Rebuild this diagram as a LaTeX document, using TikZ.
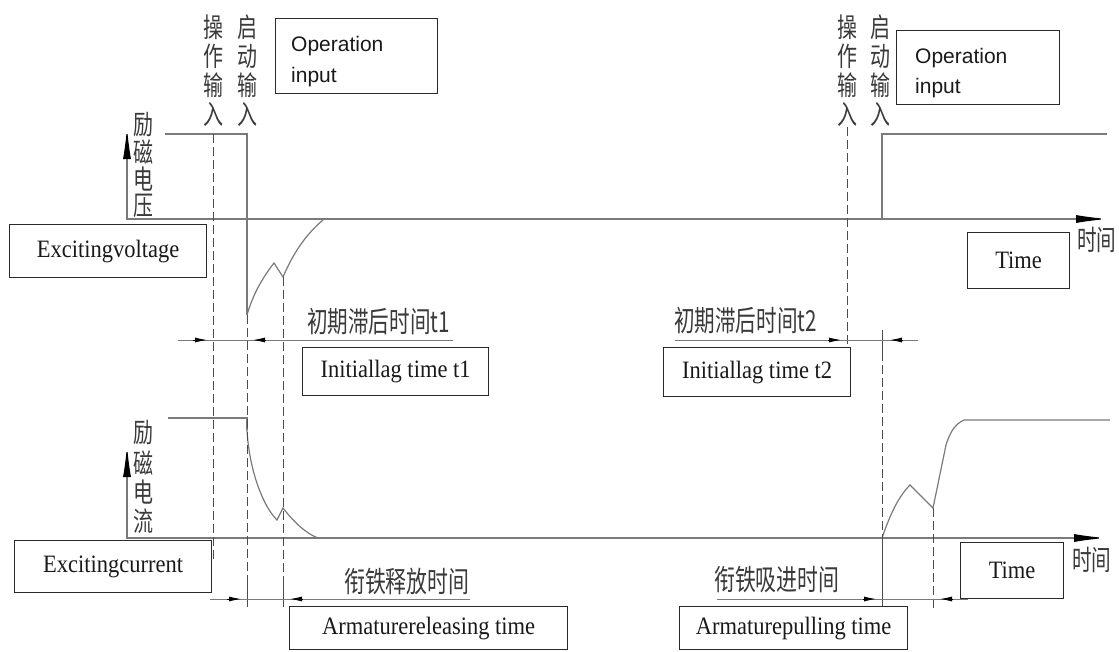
\documentclass[tikz,border=0pt]{standalone}
\usepackage{fontspec}
\newfontfamily\cjk{Noto Sans CJK SC}
\newfontfamily\sansf{Liberation Sans}
\newfontfamily\serf{Liberation Serif}
\usetikzlibrary{arrows.meta}
\definecolor{lngray}{HTML}{7A7A7A}
\definecolor{txtgray}{HTML}{3A3A3A}
\definecolor{boxline}{HTML}{2A2A2A}
\begin{document}
\begin{tikzpicture}[x=1pt,y=-1pt,
  ln/.style={draw=lngray, line width=1.2pt},
  dsh/.style={draw=black!70, line width=0.9pt, dash pattern=on 9pt off 4pt},
  tick/.style={draw=black!70, line width=0.9pt},
  axisarr/.style={ln, {Latex[length=32pt,width=8pt,color=black]}-{Latex[length=32pt,width=8pt,color=black]}},
  dimarr/.style={draw=black, line width=0.8pt, -{Latex[length=12pt,width=5pt,color=black]}},
  ebox/.style={draw=boxline, line width=1.2pt, inner sep=0pt, anchor=north west, text=black!90, font=\serf\fontsize{25}{28}\selectfont},
  opbox/.style={draw=boxline, line width=1.2pt, inner sep=0pt, anchor=north west},
  optext/.style={anchor=base west, inner sep=0pt, text=black!90, font=\sansf\fontsize{21}{24}\selectfont},
  vch/.style={inner sep=0pt, text=txtgray, font=\cjk\fontsize{27}{27}\selectfont},
  hch/.style={inner sep=0pt, anchor=west, text=txtgray, font=\cjk\fontsize{29}{29}\selectfont},
]
\useasboundingbox (0,0) rectangle (1119,651);

% ---------- vertical Chinese labels ----------
\foreach \c [count=\i from 0] in {操,作,输,入}
  \node[vch] (opl\i) at (213,27+29*\i) {\scalebox{0.74}[1]{\c}};
\foreach \c [count=\i from 0] in {启,动,输,入}
  \node[vch] (stl\i) at (247,27+29*\i) {\scalebox{0.74}[1]{\c}};
\foreach \c [count=\i from 0] in {操,作,输,入}
  \node[vch] (opr\i) at (847,27+29*\i) {\scalebox{0.74}[1]{\c}};
\foreach \c [count=\i from 0] in {启,动,输,入}
  \node[vch] (str\i) at (880,27+29*\i) {\scalebox{0.74}[1]{\c}};
\foreach \c [count=\i from 0] in {励,磁,电,压}
  \node[vch] (vlab\i) at (143,125+27*\i) {\scalebox{0.74}[1]{\c}};
\foreach \c [count=\i from 0] in {励,磁,电,流}
  \node[vch] (clab\i) at (143,433+29.5*\i) {\scalebox{0.74}[1]{\c}};

% ---------- Operation input boxes ----------
\node[opbox, minimum width=162pt, minimum height=75pt] (op1) at (275,18) {};
\node[optext] (op1a) at (291,51) {Operation};
\node[optext] (op1b) at (291,82) {input};
\node[opbox, minimum width=163pt, minimum height=74pt] (op2) at (896,30) {};
\node[optext] (op2a) at (915,63) {Operation};
\node[optext] (op2b) at (915,93) {input};

% ---------- axes ----------
\draw[axisarr] (127,127) -- (127,219) -- (1108,219);
\draw[axisarr] (127,445) -- (127,538) -- (1106,538);

% ---------- exciting voltage ----------
\draw[ln] (165,134) -- (247,134) -- (247,315);
\draw[ln] (247,315) .. controls (253,294) and (263,277) .. (274,263) -- (283,277)
  .. controls (292,256) and (304,236) .. (323,220);
\draw[ln] (882,219) -- (882,134) -- (1107,134);

% ---------- exciting current ----------
\draw[ln] (168,418) -- (247,418) -- (247,430);
\draw[ln] (247,430) .. controls (249,468) and (262,505) .. (277,520) -- (283,508)
  .. controls (293,521) and (305,533) .. (318,538);
\draw[ln] (882,538) .. controls (890,515) and (898,497) .. (910,485) -- (933,508)
  -- (946,445) .. controls (950,432) and (955,424) .. (964,420) -- (1110,420);

% ---------- dashed guide lines ----------
\draw[dsh] (213,134) -- (213,562);
\draw[dsh] (247,315) -- (247,583);
\draw[tick] (247,583) -- (247,607);
\draw[dsh] (283,277) -- (283,583);
\draw[tick] (283,583) -- (283,607);
\draw[dsh] (847,127) -- (847,347);
\draw[tick] (882,330) -- (882,352);
\draw[dsh] (882,352) -- (882,538);
\draw[tick] (882,538) -- (882,607);
\draw[dsh] (933,508) -- (933,608);

% ---------- dimension lines ----------
\draw[ln, line width=1pt] (178,340) -- (453,340);
\draw[ln, line width=1pt] (675,340) -- (918,340);
\draw[ln, line width=1pt] (210,599) -- (470,599);
\draw[ln, line width=1pt] (717,599) -- (968,599);
\draw[dimarr] (193,340) -- (207,340);
\draw[dimarr] (266,340) -- (253,340);
\draw[dimarr] (828,340) -- (841,340);
\draw[dimarr] (903,340) -- (890,340);
\draw[dimarr] (227,599) -- (241,599);
\draw[dimarr] (303,599) -- (290,599);
\draw[dimarr] (863,599) -- (876,599);
\draw[dimarr] (953,599) -- (940,599);

% ---------- horizontal Chinese labels ----------
\node[hch] (lag1) at (307,322) {\scalebox{0.71}[1]{初期滞后时间t1}};
\node[hch] (lag2) at (674,321) {\scalebox{0.71}[1]{初期滞后时间t2}};
\node[hch] (rel) at (344,581) {\scalebox{0.72}[1]{衔铁释放时间}};
\node[hch] (pul) at (714,580) {\scalebox{0.72}[1]{衔铁吸进时间}};
\node[hch, font=\cjk\fontsize{28}{28}\selectfont] (tU) at (1077,240) {\scalebox{0.7}[1]{时间}};
\node[hch, font=\cjk\fontsize{28}{28}\selectfont] (tL) at (1072,560) {\scalebox{0.7}[1]{时间}};

% ---------- English boxes ----------
\node[ebox, minimum width=197pt, minimum height=53pt] (ev) at (9,224) {\scalebox{0.9}[1]{Excitingvoltage}};
\node[ebox, minimum width=197pt, minimum height=52pt] (ec) at (14,540) {\scalebox{0.9}[1]{Excitingcurrent}};
\node[ebox, minimum width=186pt, minimum height=48pt] (b1) at (302,347) {\scalebox{0.9}[1]{Initiallag time t1}};
\node[ebox, minimum width=187pt, minimum height=49pt] (b2) at (663,347) {\scalebox{0.9}[1]{Initiallag time t2}};
\node[ebox, minimum width=102pt, minimum height=56pt] (tmU) at (967,232) {\scalebox{0.9}[1]{Time}};
\node[ebox, minimum width=103pt, minimum height=56pt] (tmL) at (960,542) {\scalebox{0.9}[1]{Time}};
\node[ebox, minimum width=278pt, minimum height=43pt] (arel) at (289,606) {\scalebox{0.9}[1]{Armaturereleasing time}};
\node[ebox, minimum width=228pt, minimum height=43pt] (apul) at (679,606) {\scalebox{0.9}[1]{Armaturepulling time}};
\end{tikzpicture}
\end{document}
